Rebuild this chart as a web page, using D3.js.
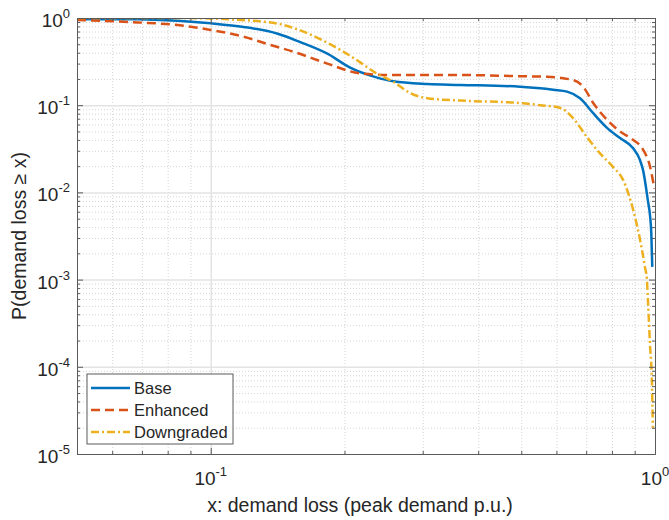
<!DOCTYPE html>
<html>
<head>
<meta charset="utf-8">
<script src="https://cdn.jsdelivr.net/npm/d3@7"></script>
<style>
  body { margin: 0; background: #fff; }
  text { font-family: "Liberation Sans", Arial, sans-serif; fill: #262626; }
</style>
</head>
<body>
<script>
// curves: [x, P(demand loss >= x)]
let baseData = [
  [0.05, 0.97], [0.0686, 0.97], [0.0843, 0.93], [0.1, 0.87], [0.1186, 0.79],
  [0.1415, 0.66], [0.159, 0.53], [0.183, 0.39], [0.206, 0.27], [0.235, 0.21],
  [0.2575, 0.188], [0.3073, 0.175], [0.3646, 0.171], [0.497, 0.163], [0.552, 0.156],
  [0.59, 0.15], [0.634, 0.143], [0.678, 0.12], [0.726, 0.081], [0.78, 0.055],
  [0.834, 0.042], [0.893, 0.032], [0.925, 0.0235], [0.94, 0.018], [0.964, 0.008],
  [0.975, 0.0053], [0.981, 0.0034], [0.986, 0.0014]
];
let enhancedData = [
  [0.05, 0.95], [0.0686, 0.89], [0.0843, 0.83], [0.1, 0.73], [0.1186, 0.61],
  [0.1364, 0.49], [0.1537, 0.41], [0.183, 0.30], [0.217, 0.232], [0.2575, 0.222],
  [0.3646, 0.222], [0.497, 0.215], [0.572, 0.212], [0.654, 0.194], [0.689, 0.163],
  [0.726, 0.106], [0.78, 0.068], [0.834, 0.05], [0.893, 0.04], [0.94, 0.031],
  [0.975, 0.0196], [0.997, 0.011]
];
let downgradedData = [
  [0.05, 1.0], [0.0843, 1.0], [0.1, 0.99], [0.109, 0.97], [0.1415, 0.86],
  [0.159, 0.72], [0.183, 0.52], [0.199, 0.41], [0.217, 0.31], [0.235, 0.235],
  [0.2575, 0.186], [0.281, 0.138], [0.3073, 0.12], [0.3646, 0.113], [0.497, 0.106],
  [0.552, 0.1], [0.612, 0.093], [0.654, 0.071], [0.703, 0.043], [0.752, 0.028],
  [0.804, 0.0196], [0.847, 0.014], [0.893, 0.0063], [0.925, 0.0029], [0.949, 0.0014],
  [0.959, 0.001], [0.964, 0.00058], [0.975, 0.00017], [0.984, 0.00007], [0.989, 0.00002]
];

let seriesNames = ["Base", "Enhanced", "Downgraded"];
let xMajor = [0.1, 1];
let yMajor = [1e-5, 1e-4, 1e-3, 1e-2, 1e-1, 1];
let yExp = ["-5", "-4", "-3", "-2", "-1", "0"];
let xExp = ["-1", "0"];

let margin = {top: 18, bottom: 66, left: 77, right: 14};
let svgWidth = 669;
let svgHeight = 520;
let width = svgWidth - margin.left - margin.right;
let height = svgHeight - margin.top - margin.bottom;

let svg = d3.select("body").append("svg")
  .attr("width", svgWidth)
  .attr("height", svgHeight);
let canvas = svg.append("g")
  .attr("transform", "translate(" + margin.left + "," + margin.top + ")");

let xscale = d3.scaleLog().domain([0.05, 1]).range([0, width]);
let yscale = d3.scaleLog().domain([1e-5, 1]).range([height, 0]);

// minor values: 2..9 of each decade
let xMinor = [0.06, 0.07, 0.08, 0.09];
for (let k = 2; k <= 9; k++) xMinor.push(k / 10);
let yMinor = [];
for (let e = -5; e < 0; e++) for (let k = 2; k <= 9; k++) yMinor.push(k * Math.pow(10, e));

/*
 *  G R I D
 */
canvas.append("g")
  .attr("transform", "translate(0," + height + ")")
  .call(d3.axisBottom(xscale).tickValues(xMinor).tickSize(-height).tickFormat(""))
  .call(g => g.select(".domain").remove())
  .selectAll("line").attr("stroke", "#d4d4d4").attr("stroke-dasharray", "1,2");
canvas.append("g")
  .call(d3.axisLeft(yscale).tickValues(yMinor).tickSize(-width).tickFormat(""))
  .call(g => g.select(".domain").remove())
  .selectAll("line").attr("stroke", "#d4d4d4").attr("stroke-dasharray", "1,2");
canvas.append("g")
  .attr("transform", "translate(0," + height + ")")
  .call(d3.axisBottom(xscale).tickValues([0.1]).tickSize(-height).tickFormat(""))
  .call(g => g.select(".domain").remove())
  .selectAll("line").attr("stroke", "#e3e3e3").attr("stroke-width", 1.5);
canvas.append("g")
  .call(d3.axisLeft(yscale).tickValues(yMajor.slice(1, 5)).tickSize(-width).tickFormat(""))
  .call(g => g.select(".domain").remove())
  .selectAll("line").attr("stroke", "#e3e3e3").attr("stroke-width", 1.5);

/*
 *  C U R V E S
 */
let line = d3.line()
  .x(d => xscale(d[0]))
  .y(d => yscale(d[1]))
  .curve(d3.curveMonotoneX);

let styles = [
  {color: "#0072BD", dash: null},
  {color: "#D95319", dash: "9,5"},
  {color: "#EDB120", dash: "8,3,2,3"}
];
let allData = [baseData, enhancedData, downgradedData];

canvas.append("clipPath").attr("id", "clip")
  .append("rect").attr("width", width).attr("height", height);

canvas.append("g").attr("clip-path", "url(#clip)")
  .selectAll("path")
  .data(allData)
  .enter()
  .append("path")
    .attr("d", line)
    .attr("fill", "none")
    .attr("stroke", (d, i) => styles[i].color)
    .attr("stroke-width", 2.5)
    .attr("stroke-dasharray", (d, i) => styles[i].dash);

/*
 *  A X E S  (box, inward ticks)
 */
function styleAxis(g) {
  g.select(".domain").attr("stroke", "#5a5a5a");
  g.selectAll(".tick line").attr("stroke", "#5a5a5a");
}
canvas.append("g").attr("transform", "translate(0," + height + ")")
  .call(d3.axisBottom(xscale).tickValues(xMajor).tickSizeInner(-6).tickSizeOuter(0).tickFormat(""))
  .call(styleAxis);
canvas.append("g").attr("transform", "translate(0," + height + ")")
  .call(d3.axisBottom(xscale).tickValues(xMinor).tickSizeInner(-3).tickSizeOuter(0).tickFormat(""))
  .call(styleAxis);
canvas.append("g")
  .call(d3.axisTop(xscale).tickValues(xMajor).tickSizeInner(-6).tickSizeOuter(0).tickFormat(""))
  .call(styleAxis);
canvas.append("g")
  .call(d3.axisTop(xscale).tickValues(xMinor).tickSizeInner(-3).tickSizeOuter(0).tickFormat(""))
  .call(styleAxis);
canvas.append("g")
  .call(d3.axisLeft(yscale).tickValues(yMajor).tickSizeInner(-6).tickSizeOuter(0).tickFormat(""))
  .call(styleAxis);
canvas.append("g")
  .call(d3.axisLeft(yscale).tickValues(yMinor).tickSizeInner(-3).tickSizeOuter(0).tickFormat(""))
  .call(styleAxis);
canvas.append("g").attr("transform", "translate(" + width + ",0)")
  .call(d3.axisRight(yscale).tickValues(yMajor).tickSizeInner(-6).tickSizeOuter(0).tickFormat(""))
  .call(styleAxis);
canvas.append("g").attr("transform", "translate(" + width + ",0)")
  .call(d3.axisRight(yscale).tickValues(yMinor).tickSizeInner(-3).tickSizeOuter(0).tickFormat(""))
  .call(styleAxis);

// tick labels as 10 with superscript exponent
let yLabels = canvas.selectAll(".ylab")
  .data(yMajor)
  .enter()
  .append("text")
    .attr("class", "ylab")
    .attr("x", -7)
    .attr("y", d => yscale(d) + 9)
    .attr("text-anchor", "end")
    .style("font-size", "19px");
yLabels.append("tspan").text("10");
yLabels.append("tspan").attr("dy", -9).style("font-size", "13px").text((d, i) => yExp[i]);

let xLabels = canvas.selectAll(".xlab")
  .data(xMajor)
  .enter()
  .append("text")
    .attr("class", "xlab")
    .attr("x", d => xscale(d))
    .attr("y", height + 31)
    .attr("text-anchor", "middle")
    .style("font-size", "19px");
xLabels.append("tspan").text("10");
xLabels.append("tspan").attr("dy", -9).style("font-size", "13px").text((d, i) => xExp[i]);

canvas.append("text")
  .attr("x", width / 2 - 6)
  .attr("y", height + 58)
  .attr("text-anchor", "middle")
  .style("font-size", "19.5px")
  .text("x: demand loss (peak demand p.u.)");

canvas.append("text")
  .attr("transform", "translate(-51," + (height / 2) + ") rotate(-90)")
  .attr("text-anchor", "middle")
  .style("font-size", "19.5px")
  .text("P(demand loss \u2265 x)");

/*
 *  L E G E N D
 */
let legend = canvas.append("g").attr("transform", "translate(10,356)");
legend.append("rect")
  .attr("width", 146)
  .attr("height", 70)
  .attr("fill", "#fff")
  .attr("stroke", "#5a5a5a");
let items = legend.selectAll(".item")
  .data(seriesNames)
  .enter()
  .append("g")
    .attr("transform", (d, i) => "translate(0," + (14 + i * 22) + ")");
items.append("line")
  .attr("x1", 4).attr("x2", 43)
  .attr("stroke", (d, i) => styles[i].color)
  .attr("stroke-width", 2.5)
  .attr("stroke-dasharray", (d, i) => styles[i].dash);
items.append("text")
  .attr("x", 47)
  .attr("y", 6)
  .style("font-size", "16.5px")
  .text(d => d);
</script>
</body>
</html>
